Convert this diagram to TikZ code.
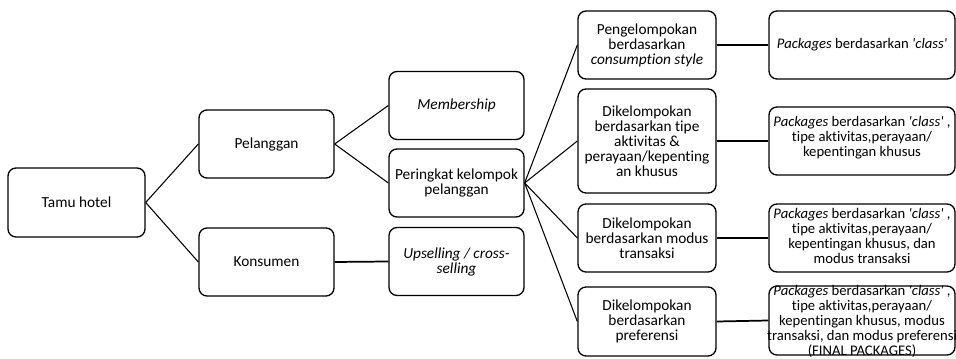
\documentclass[tikz,border=0pt]{standalone}
\usepackage{fontspec}
\setmainfont{Carlito}[Ligatures=NoCommon]
\newcommand{\sq}{\textquotesingle}
\begin{document}
\begin{tikzpicture}[x=0.75pt,y=-0.75pt,
  font=\fontsize{11.5}{11.25}\selectfont,
  box/.style={draw, line width=1pt, rounded corners=6pt, align=center, inner sep=2pt},
  colA/.style={box, minimum width=102.75pt, minimum height=51.75pt},
  colB/.style={box, minimum width=101.25pt, minimum height=51pt},
  colD/.style={box, minimum width=103.5pt, minimum height=51pt},
  colE/.style={box, minimum width=139.5pt, minimum height=51pt},
  txt/.style={align=center, inner sep=0pt, font=\fontsize{11}{11.25}\selectfont},
  link/.style={line width=0.8pt},
  hlink/.style={line width=1.3pt}]
\useasboundingbox (0,0) rectangle (956,359);

% root and first level
\node[colA] (tamu) at (76.5,202.5) {Tamu hotel};
\node[colB] (pel) at (266.5,144) {Pelanggan};
\node[colB] (kon) at (266.5,262) {Konsumen};

% second level
\node[colB] (mem) at (456.5,105.5) {\itshape Membership};
\node[colB] (per) at (456.5,183) {Peringkat kelompok\\pelanggan};
\node[colB] (ups) at (456.5,261.5) {\itshape Upselling / cross-\\\itshape selling};

% grouping criteria
\node[colD] (c1) at (647,45) {Pengelompokan\\berdasarkan\\\textit{consumption style}};
\node[colD, minimum height=78pt] (c2) at (647,141) {Dikelompokan\\berdasarkan tipe\\aktivitas \&\\perayaan/kepenting\\an khusus};
\node[colD] (c3) at (647,238) {Dikelompokan\\berdasarkan modus\\transaksi};
\node[colD, minimum height=51.75pt] (c4) at (647,321.5) {Dikelompokan\\berdasarkan\\preferensi};

% resulting packages (frames, then their texts)
\node[colE] (d1) at (862,45) {};
\node[colE] (d2) at (862,141) {};
\node[colE] (d3) at (862,238) {};
\node[colE, minimum height=51.75pt] (d4) at (862,320.5) {};

\node[txt] (d1t) at (862,45) {\textit{Packages} berdasarkan \textit{\sq class\sq}};
\node[txt] (d2t) at (862,138) {\textit{Packages} berdasarkan \textit{\sq class\sq} ,\\tipe aktivitas,perayaan/\\kepentingan khusus};
\node[txt] (d3t) at (862,235.5) {\textit{Packages} berdasarkan \textit{\sq class\sq} ,\\tipe aktivitas,perayaan/\\kepentingan khusus, dan\\modus transaksi};
\node[txt] (d4t) at (862,321.5) {\textit{Packages} berdasarkan \textit{\sq class\sq} ,\\tipe aktivitas,perayaan/\\kepentingan khusus, modus\\transaksi, dan modus preferensi\\(FINAL PACKAGES)};

% connectors
\draw[link] (tamu.east) -- (pel.west);
\draw[link] (tamu.east) -- (kon.west);
\draw[link] (pel.east) -- (mem.west);
\draw[link] (pel.east) -- (per.west);
\draw[hlink] (kon.east) -- (ups.west);
\foreach \c in {c1,c2,c3,c4}
  \draw[link] (per.east) -- (\c.west);
\draw[hlink] (c1.east) -- (d1.west);
\draw[hlink] (c2.east) -- (d2.west);
\draw[hlink] (c3.east) -- (d3.west);
\draw[hlink] (c4.east) -- (d4.west);
\end{tikzpicture}
\end{document}
